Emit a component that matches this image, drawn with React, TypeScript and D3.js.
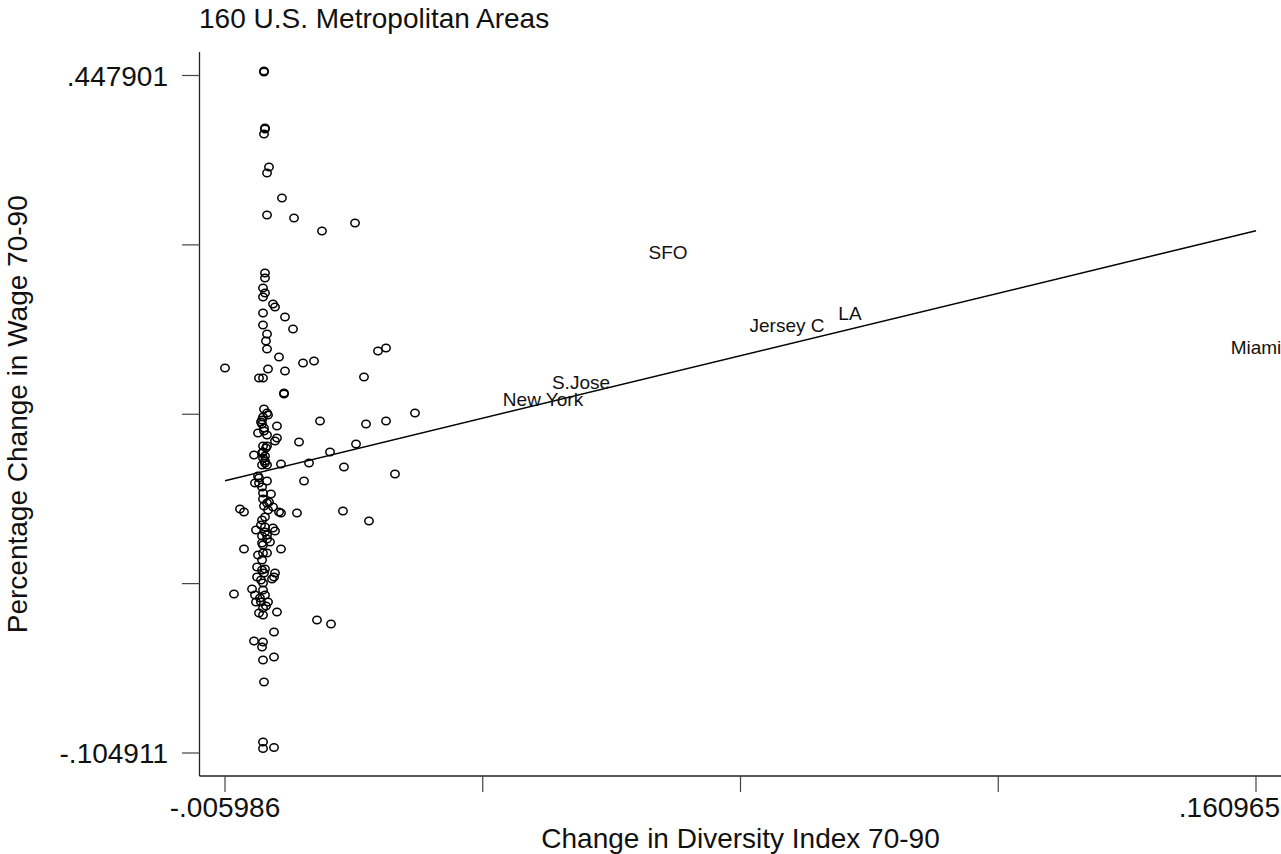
import { useRef, useEffect } from 'react';
import * as d3 from 'd3';

// Change in diversity index (x) vs percentage change in wage (y), 1970-90
const xDomain: [number, number] = [-0.005986, 0.160965];
const yDomain: [number, number] = [-0.104911, 0.447901];

const xTickLabels = ['-.005986', '', '', '', '.160965'];
const yTickLabels = ['-.104911', '', '', '', '.447901'];

const title = '160 U.S. Metropolitan Areas';
const xTitle = 'Change in Diversity Index 70-90';
const yTitle = 'Percentage Change in Wage 70-90';

// unlabeled metro areas
const points: [number, number][] = [
  [0.00033, 0.44790], [0.00033, 0.44708], [0.00049, 0.40139], [0.00049, 0.40057],
  [0.00033, 0.39649], [0.00114, 0.36957], [0.00082, 0.36467], [0.00324, 0.34427],
  [0.00082, 0.33040], [0.00519, 0.32795], [0.00972, 0.31735], [0.01507, 0.32387],
  [0.00049, 0.28308], [0.00049, 0.27900], [0.00017, 0.27084], [0.00049, 0.26676],
  [0.00017, 0.26349], [0.00179, 0.25778], [0.00211, 0.25533], [0.00017, 0.25044],
  [0.00373, 0.24717], [0.00017, 0.24065], [0.00503, 0.23738], [0.00082, 0.23330],
  [0.00065, 0.22759], [0.00082, 0.22106], [0.01879, 0.21943], [0.02009, 0.22188],
  [0.00276, 0.21454], [-0.005986, 0.20556], [0.00098, 0.20474], [0.00665, 0.20964],
  [0.00843, 0.21127], [0.00373, 0.20311], [-0.00048, 0.19740], [0.00017, 0.19740],
  [0.01652, 0.19822], [0.00357, 0.18516], [0.00357, 0.18434], [0.00033, 0.17211],
  [0.00082, 0.16884], [0.00098, 0.16721], [0.00017, 0.16558], [0.00001, 0.16313],
  [-0.00016, 0.16150], [0.00940, 0.16231], [0.01685, 0.15987], [0.02009, 0.16231],
  [0.02478, 0.16884], [0.00243, 0.15823], [0.00033, 0.15660], [-0.00064, 0.15252],
  [0.00082, 0.15089], [0.00243, 0.14844], [0.00211, 0.14599], [0.00600, 0.14518],
  [0.01523, 0.14355], [0.00017, 0.14191], [0.00082, 0.14191], [0.00065, 0.14028],
  [0.01102, 0.13702], [0.00001, 0.13620], [-0.00129, 0.13457], [0.00017, 0.13702],
  [0.00017, 0.13212], [0.00049, 0.12968], [0.00082, 0.12641], [0.00049, 0.12804],
  [0.00308, 0.12723], [0.00762, 0.12804], [0.01328, 0.12478], [0.02154, 0.11907],
  [-0.00064, 0.11744], [-0.00048, 0.11580], [-0.00113, 0.11172], [-0.00048, 0.11172],
  [0.00082, 0.11336], [0.00681, 0.11336], [0.00017, 0.10356], [0.00146, 0.10275],
  [0.00017, 0.09867], [0.00114, 0.09622], [0.00082, 0.09541], [0.00033, 0.09296],
  [0.00179, 0.09214], [0.00098, 0.08969], [-0.00356, 0.09051], [-0.00291, 0.08806],
  [0.00276, 0.08806], [0.00308, 0.08725], [0.00567, 0.08725], [0.01312, 0.08888],
  [0.01733, 0.08072], [0.00001, 0.08153], [-0.00016, 0.07745], [-0.00097, 0.07337],
  [0.00049, 0.07174], [0.00211, 0.07256], [0.00179, 0.07500], [0.00001, 0.06848],
  [0.00082, 0.06929], [0.00082, 0.06603], [0.00130, 0.06358], [0.00017, 0.06113],
  [0.00001, 0.06277], [-0.00291, 0.05787], [0.00308, 0.05787], [-0.00064, 0.05297],
  [0.00082, 0.05461], [0.00017, 0.05461], [-0.00080, 0.04318], [0.00001, 0.04074],
  [0.00049, 0.04155], [0.00211, 0.03829], [0.00195, 0.03502], [-0.00080, 0.03502],
  [-0.00016, 0.03258], [0.00163, 0.03339], [0.00017, 0.03013], [-0.00161, 0.02523],
  [-0.00453, 0.02115], [-0.00113, 0.02034], [0.00049, 0.02034], [-0.00097, 0.01463],
  [-0.00016, 0.01463], [0.00098, 0.01463], [0.00017, 0.00973], [-0.00048, 0.00565],
  [0.00017, 0.00402], [0.00243, 0.00647], [0.00891, -0.00006], [0.01118, -0.00333],
  [0.00195, -0.00985], [-0.00129, -0.01720], [0.00017, -0.01801], [0.00001, -0.02210],
  [0.00195, -0.03025], [0.00017, -0.03270], [0.00033, -0.05065], [0.00017, -0.09961],
  [0.00017, -0.104911], [0.00195, -0.10410], [0.00001, 0.15987], [0.00033, 0.15415],
  [0.00049, 0.13376], [0.00001, 0.10846], [0.00049, 0.07582], [0.00001, 0.04890],
  [0.00033, 0.03829], [-0.00032, 0.01789], [0.00065, 0.01136], [0.00017, 0.02442],
  [0.00049, 0.08398], [0.00001, 0.12641],
];

// metro areas drawn with their name instead of a marker
const labeled = [
  { name: 'SFO', x: 0.06575, y: 0.30021 },
  { name: 'Jersey C', x: 0.08502, y: 0.24065 },
  { name: 'LA', x: 0.09522, y: 0.25044 },
  { name: 'S.Jose', x: 0.05166, y: 0.19414 },
  { name: 'New York', x: 0.04551, y: 0.18027 },
  { name: 'Miami', x: 0.160965, y: 0.22269 },
];

// fitted regression line at the x extremes
const fit: [number, number][] = [
  [-0.005986, 0.11727],
  [0.160965, 0.32126],
];

const FONT = '"Liberation Sans", Arial, Helvetica, sans-serif';

export default function App() {
  const svgRef = useRef<SVGSVGElement | null>(null);

  useEffect(() => {
    if (!svgRef.current) return;
    const svg = d3.select(svgRef.current);
    svg.selectAll('*').remove();

    const axisX = 199.5;
    const axisY = 776;

    const x = d3.scaleLinear().domain(xDomain).range([225, 1256]);
    const y = d3.scaleLinear().domain(yDomain).range([753, 75.5]);

    const xTicks = d3.range(5).map(i => xDomain[0] + (i * (xDomain[1] - xDomain[0])) / 4);
    const yTicks = d3.range(5).map(i => yDomain[0] + (i * (yDomain[1] - yDomain[0])) / 4);

    const g = svg.append('g').style('font-family', FONT);

    // title
    g.append('text')
      .attr('x', 199)
      .attr('y', 27.5)
      .style('font-size', '28px')
      .attr('fill', '#111')
      .text(title);

    // axes
    g.append('line')
      .attr('x1', axisX).attr('x2', axisX)
      .attr('y1', 52).attr('y2', axisY)
      .attr('stroke', '#222').attr('stroke-width', 1.3);
    g.append('line')
      .attr('x1', axisX).attr('x2', 1281)
      .attr('y1', axisY).attr('y2', axisY)
      .attr('stroke', '#222').attr('stroke-width', 1.3);

    // y ticks
    g.selectAll('.ytick')
      .data(yTicks)
      .enter()
      .append('line')
      .attr('x1', 182).attr('x2', axisX)
      .attr('y1', d => y(d)).attr('y2', d => y(d))
      .attr('stroke', '#444').attr('stroke-width', 1.2);
    g.selectAll('.ylab')
      .data(yTicks)
      .enter()
      .append('text')
      .attr('x', 168)
      .attr('y', d => y(d))
      .attr('dy', '0.36em')
      .attr('text-anchor', 'end')
      .style('font-size', '28px')
      .attr('fill', '#111')
      .text((_, i) => yTickLabels[i]);

    // x ticks
    g.selectAll('.xtick')
      .data(xTicks)
      .enter()
      .append('line')
      .attr('x1', d => x(d)).attr('x2', d => x(d))
      .attr('y1', axisY).attr('y2', 792)
      .attr('stroke', '#444').attr('stroke-width', 1.2);
    g.selectAll('.xlab')
      .data(xTicks)
      .enter()
      .append('text')
      .attr('x', (d, i) => (i === xTicks.length - 1 ? 1280 : x(d)))
      .attr('y', 817)
      .attr('text-anchor', (_, i) => (i === xTicks.length - 1 ? 'end' : 'middle'))
      .style('font-size', '28px')
      .attr('fill', '#111')
      .text((_, i) => xTickLabels[i]);

    // axis titles
    g.append('text')
      .attr('x', (x(xDomain[0]) + x(xDomain[1])) / 2)
      .attr('y', 848)
      .attr('text-anchor', 'middle')
      .style('font-size', '28px')
      .attr('fill', '#111')
      .text(xTitle);
    g.append('text')
      .attr('transform', `translate(27,${(y(yDomain[0]) + y(yDomain[1])) / 2}) rotate(-90)`)
      .attr('text-anchor', 'middle')
      .style('font-size', '28px')
      .attr('fill', '#111')
      .text(yTitle);

    // regression line
    g.append('path')
      .datum(fit)
      .attr('d', d3.line<[number, number]>().x(d => x(d[0])).y(d => y(d[1])))
      .attr('fill', 'none')
      .attr('stroke', '#000')
      .attr('stroke-width', 1.5);

    // markers: Stata-style hollow "o", drawn just above the data point
    const lift = 4.5;
    g.selectAll('.pt')
      .data(points)
      .enter()
      .append('ellipse')
      .attr('cx', d => x(d[0]))
      .attr('cy', d => y(d[1]) - lift)
      .attr('rx', 4.2)
      .attr('ry', 3.8)
      .attr('fill', 'none')
      .attr('stroke', '#000')
      .attr('stroke-width', 1.5);

    g.selectAll('.lab')
      .data(labeled)
      .enter()
      .append('text')
      .attr('x', d => x(d.x))
      .attr('y', d => y(d.y) - lift)
      .attr('dy', '0.36em')
      .attr('text-anchor', 'middle')
      .style('font-size', '19px')
      .attr('fill', '#111')
      .text(d => d.name);
  }, []);

  return (
    <svg
      ref={svgRef}
      width={1281}
      height={854}
      style={{ position: 'absolute', left: 0, top: 0, background: '#fff' }}
    />
  );
}
